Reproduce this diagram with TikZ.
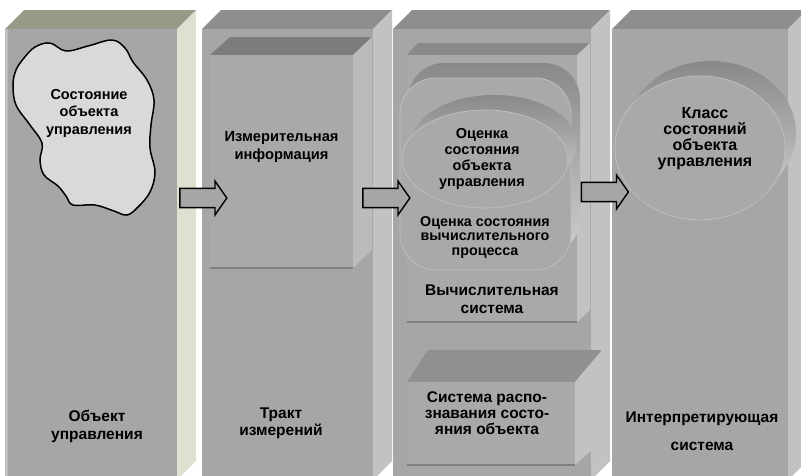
\documentclass[tikz,border=0pt]{standalone}
\usepackage{fontspec}
\setmainfont{Liberation Sans}
\usepackage{xcolor}
\usetikzlibrary{shapes.arrows}
\usetikzlibrary{positioning}

\definecolor{frontgray}{HTML}{A6A6A6}
\definecolor{topgray}{HTML}{8E8E8E}
\definecolor{sidegray}{HTML}{C2C2C2}
\definecolor{topolive}{HTML}{999988}
\definecolor{sidebeige}{HTML}{E0E0D0}
\definecolor{innerfront}{HTML}{A9A9A9}
\definecolor{innertop}{HTML}{7C7C7C}
\definecolor{rimgray}{HTML}{BEBEBE}
\definecolor{cloudgray}{HTML}{D9D9D9}

\tikzset{
  lbl/.style 2 args={font=\bfseries\fontsize{#1}{#2}\selectfont, align=center, text=black, inner sep=0pt},
  blockarrow/.style={single arrow, draw=black, line width=1.4pt, fill=frontgray,
    minimum height=47, minimum width=34, inner xsep=0pt, inner ysep=8.5pt,
    single arrow tip angle=110},
  rim/.style={draw=rimgray, line width=0.8pt},
  extrude/.style={top color=innertop!90!white, bottom color=sidegray!80!white}
}

\begin{document}
\begin{tikzpicture}[x=1pt, y=-1pt]
\useasboundingbox (0,0) rectangle (801,475);
\clip (0,0) rectangle (801,475);

% Объект управления
\fill[topolive] (5,29) -- (24,10) -- (196,10) -- (177,29) -- cycle;
\fill[sidebeige] (177,29) -- (196,10) -- (196,461) -- (177,480) -- cycle;
\fill[frontgray] (5,29) rectangle (177,480);
\fill[rimgray] (5,29) rectangle (8,480);

% the three grey slabs
\foreach \xl/\xr in {202/373, 393/591, 612/788}{
  \fill[topgray] (\xl,29) -- ({\xl+19},10) -- ({\xr+19},10) -- (\xr,29) -- cycle;
  \fill[sidegray] (\xr,29) -- ({\xr+19},10) -- ({\xr+19},461) -- (\xr,480) -- cycle;
  \fill[frontgray] (\xl,29) rectangle (\xr,480);
}

% Измерительная информация
\fill[innertop] (210,55) -- (230,37) -- (372,37) -- (353,55) -- cycle;
\fill[sidegray!90!gray] (353,55) -- (372,37) -- (372,250) -- (353,268) -- cycle;
\fill[innerfront] (210,55) rectangle (353,268);
\draw[gray, line width=1.2pt] (210,268) -- (353,268);

% Вычислительная система
\fill[innertop!90!white] (407,55) -- (418,43) -- (590,43) -- (577,55) -- cycle;
\fill[sidegray] (577,55) -- (590,43) -- (590,310) -- (577,322) -- cycle;
\fill[innerfront] (407,55) rectangle (577,322);
\draw[gray, line width=1.2pt] (407,322) -- (577,322);

% Оценка состояния вычислительного процесса
\shade[extrude, rounded corners=36] (408,63) rectangle (580,255);
\filldraw[fill=innerfront, rim, rounded corners=36] (400,78) rectangle (571,270);

% Оценка состояния объекта управления
\shade[extrude] (494,144) ellipse [x radius=83, y radius=49];
\filldraw[fill=innerfront, rim] (485,159) ellipse [x radius=83, y radius=49];

% Система распознавания
\fill[innertop!85!white] (407,382) -- (428,350) -- (602,350) -- (575,382) -- cycle;
\fill[sidegray] (575,382) -- (602,350) -- (602,441) -- (575,465) -- cycle;
\fill[innerfront] (407,382) rectangle (575,465);
\draw[gray, line width=1.2pt] (407,465) -- (575,465);

% Класс состояний
\shade[extrude] (711,133) ellipse [x radius=85, y radius=72];
\filldraw[fill=innerfront, rim] (700,148) ellipse [x radius=85, y radius=72];

% Состояние объекта управления
\draw[fill=cloudgray, line width=1.5pt] plot[smooth cycle, tension=0.6] coordinates {
  (24,58) (35,47) (50,43) (66,51) (88,46) (112,40) (125,48) (133,62) (147,80)
  (154,100) (151,125) (150,148) (155,172) (150,192) (138,207) (127,215) (114,211)
  (95,205) (73,205) (66,196) (58,186) (44,175) (40,160) (42,143) (30,125)
  (16,105) (13,85) (16,70)};

% arrows
\node[blockarrow] (arr12) at (200,198) {};
\node[blockarrow] (arr23) at (383,198) {};
\node[blockarrow] (arr34) at (601.5,192) {};

% texts
\node[lbl={14.5}{17.5}] (state)  at (89,113)  {Состояние\\объекта\\управления};
\node[lbl={15.5}{18}] (object) at (97,426)  {Объект\\управления};
\node[lbl={14.7}{18}] (meas)   at (281.5,147) {Измерительная\\информация};
\node[lbl={15.5}{17}] (tract)  at (281,423) {Тракт\\измерений};
\node[lbl={14.5}{16}] (estobj) at (482,158.5) {Оценка\\состояния\\объекта\\управления};
\node[lbl={14.3}{14.5}] (estproc) at (485,237) {Оценка состояния\\вычислительного\\процесса};
\node[lbl={15.5}{18}] (compsys) at (492,299) {Вычислительная\\система};
\node[lbl={15.5}{16}] (recog) at (487,413) {Система распо-\\знавания состо-\\яния объекта};
\node[lbl={16}{16}] (class) at (705,139) {Класс\\состояний\\объекта\\управления};
\node[lbl={15.5}{28}] (interp) at (702,431) {Интерпретирующая\\система};

\end{tikzpicture}
\end{document}
